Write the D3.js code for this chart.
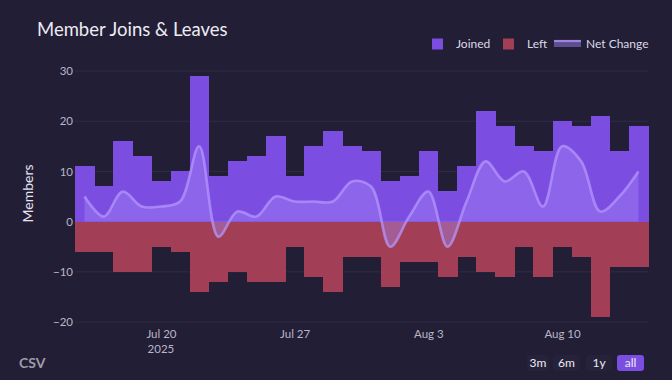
<!DOCTYPE html>
<html>
<head>
<meta charset="utf-8">
<script src="https://cdn.jsdelivr.net/npm/d3@7"></script>
<style>
  html, body { margin: 0; padding: 0; background: #221e36; }
  svg { display: block; }
  text { font-family: Lato, "Open Sans", sans-serif; }
</style>
</head>
<body>
<svg id="chart" width="672" height="380"></svg>
<script>
const dates = ["2025-07-16","2025-07-17","2025-07-18","2025-07-19","2025-07-20","2025-07-21","2025-07-22","2025-07-23","2025-07-24","2025-07-25","2025-07-26","2025-07-27","2025-07-28","2025-07-29","2025-07-30","2025-07-31","2025-08-01","2025-08-02","2025-08-03","2025-08-04","2025-08-05","2025-08-06","2025-08-07","2025-08-08","2025-08-09","2025-08-10","2025-08-11","2025-08-12","2025-08-13","2025-08-14"];
const joined = [11,7,16,13,8,10,29,9,12,13,17,9,15,18,15,14,8,9,14,6,11,22,19,15,14,20,19,21,14,19];
const left = [-6,-6,-10,-10,-5,-6,-14,-12,-10,-12,-12,-5,-11,-14,-7,-7,-13,-8,-8,-11,-7,-10,-11,-5,-11,-5,-7,-19,-9,-9];
const netChange = [5,1,6,3,3,4,15,-3,2,1,5,4,4,4,8,7,-5,1,6,-5,4,12,8,10,3,15,12,2,5,10];
const yTicks = [-20,-10,0,10,20,30];
const xTickDates = ["2025-07-20","2025-07-27","2025-08-03","2025-08-10"];
const rangeButtons = ["3m","6m","1y","all"];

const parse = d3.utcParse("%Y-%m-%d");
const DAY = 86400000;
const data = dates.map((d, i) => ({ date: parse(d), joined: joined[i], left: left[i], net: netChange[i] }));

const svg = d3.select("#chart");
const plot = { left: 75, right: 648, top: 62, bottom: 325 };

const x = d3.scaleUtc()
  .domain([new Date(data[0].date.getTime() - DAY / 2), new Date(data[data.length - 1].date.getTime() + DAY / 2)])
  .range([plot.left, plot.right]);
const y = d3.scaleLinear().domain([-20.6, 31.8]).range([plot.bottom, plot.top]);

// Title
svg.append("text").attr("x", 37).attr("y", 36).attr("fill", "#ecebf3")
  .attr("font-size", 18.5).text("Member Joins & Leaves");

// Gridlines
svg.append("g").selectAll("line").data(yTicks).join("line")
  .attr("x1", plot.left).attr("x2", plot.right)
  .attr("y1", d => y(d)).attr("y2", d => y(d))
  .attr("stroke", "#302c44").attr("stroke-width", 1);

// Y axis
const yAxis = d3.axisLeft(y).tickValues(yTicks).tickSize(0).tickPadding(2)
  .tickFormat(d => d < 0 ? "\u2212" + Math.abs(d) : String(d));
const gy = svg.append("g").attr("transform", `translate(${plot.left},0)`).call(yAxis);
gy.select(".domain").remove();
gy.selectAll("text").attr("fill", "#b9b6c6").attr("font-size", 11.5);

svg.append("text").attr("transform", `translate(33,${(plot.top + plot.bottom) / 2}) rotate(-90)`)
  .attr("text-anchor", "middle").attr("fill", "#e6e4ef").attr("font-size", 14).text("Members");

// X axis
const xAxis = d3.axisBottom(x).tickValues(xTickDates.map(parse)).tickSize(0).tickPadding(5)
  .tickFormat(d3.utcFormat("%b %-d"));
const gx = svg.append("g").attr("transform", `translate(0,${plot.bottom})`).call(xAxis);
gx.select(".domain").remove();
gx.selectAll("text").attr("fill", "#b9b6c6").attr("font-size", 11.5);
svg.append("text").attr("x", x(parse(xTickDates[0]))).attr("y", 353)
  .attr("text-anchor", "middle").attr("fill", "#b9b6c6").attr("font-size", 11.5).text("2025");

// Bars
const x0 = d => x(new Date(d.date.getTime() - DAY / 2));
const bw = d => x(new Date(d.date.getTime() + DAY / 2)) - x0(d);
svg.append("g").attr("shape-rendering", "crispEdges").selectAll("rect").data(data).join("rect")
  .attr("x", x0).attr("width", d => bw(d) + 0.5)
  .attr("y", d => y(d.joined)).attr("height", d => y(0) - y(d.joined))
  .attr("fill", "#7b4ee1");
svg.append("g").attr("shape-rendering", "crispEdges").selectAll("rect").data(data).join("rect")
  .attr("x", x0).attr("width", d => bw(d) + 0.5)
  .attr("y", y(0)).attr("height", d => y(d.left) - y(0))
  .attr("fill", "#a23f56");

// Net change area + line
const curve = d3.curveCatmullRom.alpha(0.5);
const area = d3.area().x(d => x(d.date)).y0(y(0)).y1(d => y(d.net)).curve(curve);
const line = d3.line().x(d => x(d.date)).y(d => y(d.net)).curve(curve);
svg.append("path").datum(data).attr("d", area).attr("fill", "rgba(167,139,250,0.38)");
svg.append("path").datum(data).attr("d", line).attr("fill", "none")
  .attr("stroke", "rgba(180,150,252,0.75)").attr("stroke-width", 2.6);

// Legend
const lg = svg.append("g");
lg.append("rect").attr("x", 432).attr("y", 38.5).attr("width", 11).attr("height", 11).attr("fill", "#7b4ee1");
lg.append("text").attr("x", 456).attr("y", 48).attr("fill", "#dcdae6").attr("font-size", 12).text("Joined");
lg.append("rect").attr("x", 503).attr("y", 38.5).attr("width", 11).attr("height", 11).attr("fill", "#a23f56");
lg.append("text").attr("x", 527).attr("y", 48).attr("fill", "#dcdae6").attr("font-size", 12).text("Left");
lg.append("rect").attr("x", 554).attr("y", 40).attr("width", 27).attr("height", 7).attr("fill", "rgba(167,139,250,0.45)");
lg.append("line").attr("x1", 554).attr("x2", 581).attr("y1", 41).attr("y2", 41)
  .attr("stroke", "rgba(180,150,252,0.75)").attr("stroke-width", 2.2);
lg.append("text").attr("x", 586).attr("y", 48).attr("fill", "#dcdae6").attr("font-size", 12).text("Net Change");

// CSV
svg.append("text").attr("x", 19).attr("y", 368).attr("fill", "#9e9ca8").attr("font-size", 14)
  .attr("font-weight", 700).text("CSV");

// Range buttons
const btnX = [527, 553, 586, 617];
const btnW = [22, 27, 26, 27];
const bg = svg.append("g").selectAll("g").data(rangeButtons).join("g");
bg.append("rect").attr("x", (d, i) => btnX[i]).attr("y", 355).attr("width", (d, i) => btnW[i]).attr("height", 16)
  .attr("rx", 3).attr("fill", d => d === "all" ? "#7b4ee1" : "#26223a");
bg.append("text").attr("x", (d, i) => btnX[i] + btnW[i] / 2).attr("y", 367).attr("text-anchor", "middle")
  .attr("fill", "#ecebf3").attr("font-size", 12).text(d => d);
</script>
</body>
</html>
